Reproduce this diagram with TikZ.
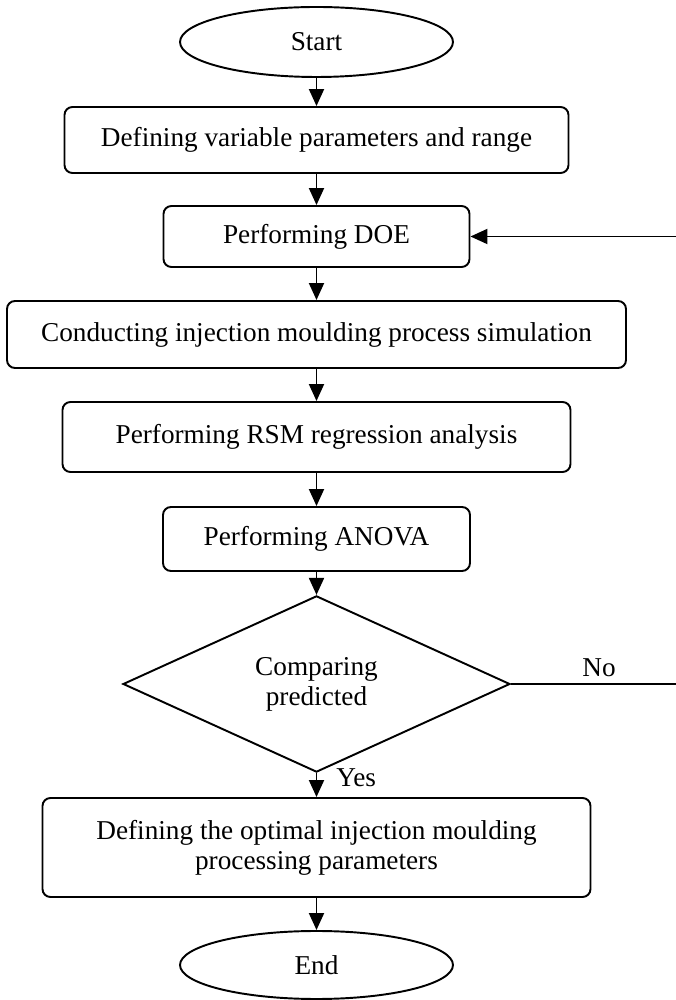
\documentclass[tikz,border=0pt]{standalone}
\usepackage{fontspec}
\setmainfont{Liberation Serif}
\usetikzlibrary{shapes.geometric,arrows.meta}

\begin{document}
\begin{tikzpicture}[
    every node/.style={font=\fontsize{15.5}{17}\selectfont},
    stepbox/.style={draw, rounded corners=0.16cm, line width=1.1pt, align=center, inner sep=0pt},
    terminal/.style={draw, ellipse, line width=1.1pt, minimum width=5.46cm, minimum height=1.4cm, inner sep=0pt},
    decision/.style={draw, diamond, line width=1.1pt, minimum width=7.74cm, minimum height=3.24cm, inner sep=0pt, align=center},
    flow/.style={-{Triangle[length=0.34cm,width=0.3cm]}, line width=1.1pt},
    tag/.style={inner sep=0pt, anchor=base west}
]
    \useasboundingbox (0,0) rectangle (13.5,20);

    % Draw the start and the process steps
    \node[terminal] (start) at (6.33,19.16) {Start};
    \node[stepbox, minimum width=10.08cm, minimum height=1.32cm] (range) at (6.33,17.2) {Defining variable parameters and range};
    \node[stepbox, minimum width=6.12cm, minimum height=1.22cm] (doe) at (6.33,15.27) {Performing DOE};
    \node[stepbox, minimum width=12.38cm, minimum height=1.34cm] (sim) at (6.33,13.31) {Conducting injection moulding process simulation};
    \node[stepbox, minimum width=10.16cm, minimum height=1.4cm] (rsm) at (6.33,11.26) {Performing RSM regression analysis};
    \node[stepbox, minimum width=6.14cm, minimum height=1.28cm] (anova) at (6.33,9.22) {Performing ANOVA};

    % Draw the check and the final steps
    \node[decision] (compare) at (6.33,6.32) {Comparing\\predicted};
    \node[stepbox, minimum width=10.96cm, minimum height=1.98cm] (optimal) at (6.33,3.05) {Defining the optimal injection moulding\\processing parameters};
    \node[terminal, minimum height=1.36cm] (end) at (6.33,0.7) {End};

    % Draw the arrows down the chart
    \draw[flow] (start) -- (range);
    \draw[flow] (range) -- (doe);
    \draw[flow] (doe) -- (sim);
    \draw[flow] (sim) -- (rsm);
    \draw[flow] (rsm) -- (anova);
    \draw[flow] (anova) -- (compare);
    \draw[flow] (compare) -- (optimal);
    \draw[flow] (optimal) -- (end);

    % Draw the loop back to the DOE step
    \coordinate (turnlow) at (13.58,6.32);
    \coordinate (turnhigh) at (13.58,15.27);
    \draw[flow] (compare.east) -- (turnlow) -- (turnhigh) -- (doe.east);

    % Draw the branch labels
    \node[tag] (no) at (11.64,6.46) {No};
    \node[tag] (yes) at (6.72,4.26) {Yes};
\end{tikzpicture}
\end{document}
